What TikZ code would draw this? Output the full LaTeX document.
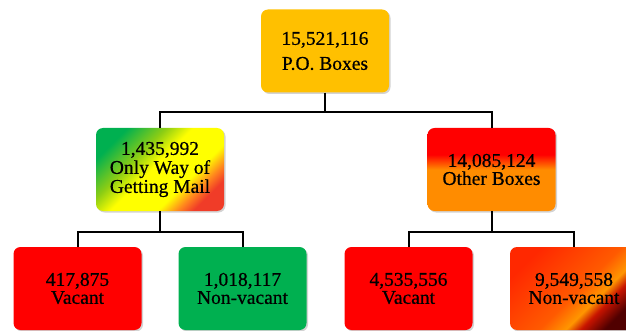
\documentclass[tikz,border=0pt]{standalone}
\usepackage{fontspec}
\setmainfont{Liberation Serif}[FakeBold=0.6]
\usetikzlibrary{shadows}
\definecolor{gold}{RGB}{255,192,0}
\definecolor{vred}{RGB}{255,0,0}
\definecolor{vgreen}{RGB}{0,176,80}
\definecolor{obor}{RGB}{255,140,0}
\definecolor{mlg}{RGB}{0,176,80}
\definecolor{mlyg}{RGB}{140,205,20}
\definecolor{mly}{RGB}{255,255,0}
\definecolor{mlo}{RGB}{255,130,30}
\definecolor{mlr}{RGB}{240,60,40}
\definecolor{nva}{RGB}{255,40,0}
\definecolor{nvb}{RGB}{255,90,0}
\definecolor{nvc}{RGB}{255,150,0}
\definecolor{nvd}{RGB}{200,20,0}
\definecolor{nve}{RGB}{80,0,0}
\pgfdeclareverticalshading{obshade}{100bp}{color(0bp)=(obor); color(50bp)=(obor); color(59bp)=(vred); color(100bp)=(vred)}
\pgfdeclarehorizontalshading{mlshade}{100bp}{color(0bp)=(mlg); color(25bp)=(mlg); color(38bp)=(mlyg); color(47bp)=(mly); color(63bp)=(mly); color(70bp)=(mlo); color(75bp)=(mlr); color(100bp)=(mlr)}
\pgfdeclarehorizontalshading{nvshade}{100bp}{color(0bp)=(nva); color(25bp)=(nva); color(52bp)=(nvb); color(61bp)=(nvc); color(66bp)=(nvd); color(74bp)=(nve); color(100bp)=(nve)}
\begin{document}
\begin{tikzpicture}[x=1pt,y=-1pt,
  box/.style={rounded corners=7pt, minimum width=128pt, minimum height=83pt,
    align=center, inner sep=0pt, text=black,
    font=\fontsize{19.5}{18}\selectfont,
    drop shadow={opacity=0.35, shadow xshift=1.5pt, shadow yshift=-1.5pt}},
  conn/.style={line width=2pt, draw=black}]
\useasboundingbox (0,0) rectangle (626,331);
\clip (0,0) rectangle (626,331);

\node[box, fill=gold, font=\fontsize{19.5}{25}\selectfont] (top) at (325,51) {15,521,116\\P.O. Boxes};
\node[box, shade, shading=mlshade, shading angle=-45, font=\fontsize{19.5}{19}\selectfont] (ml) at (160,169.5) {1,435,992\\Only Way of\\Getting Mail};
\node[box, shade, shading=obshade] (mr) at (491.5,169.5) {14,085,124\\Other Boxes};

\node[box, fill=vred] (b1) at (77.5,288.5) {417,875\\Vacant};
\node[box, fill=vgreen] (b2) at (242.5,288.5) {1,018,117\\Non-vacant};
\node[box, fill=vred] (b3) at (408.5,288.5) {4,535,556\\Vacant};
\node[box, shade, shading=nvshade, shading angle=-45] (b4) at (574,288.5) {9,549,558\\Non-vacant};

\coordinate (j1) at (325,112);
\coordinate (j2) at (160,232);
\coordinate (j3) at (491.5,232);
\draw[conn] (top.south) -- (j1);
\draw[conn] (j1) -| (ml.north);
\draw[conn] (j1) -| (mr.north);
\draw[conn] (ml.south) -- (j2);
\draw[conn] (j2) -| (b1.north);
\draw[conn] (j2) -| (b2.north);
\draw[conn] (mr.south) -- (j3);
\draw[conn] (j3) -| (b3.north);
\draw[conn] (j3) -| (b4.north);
\end{tikzpicture}
\end{document}
